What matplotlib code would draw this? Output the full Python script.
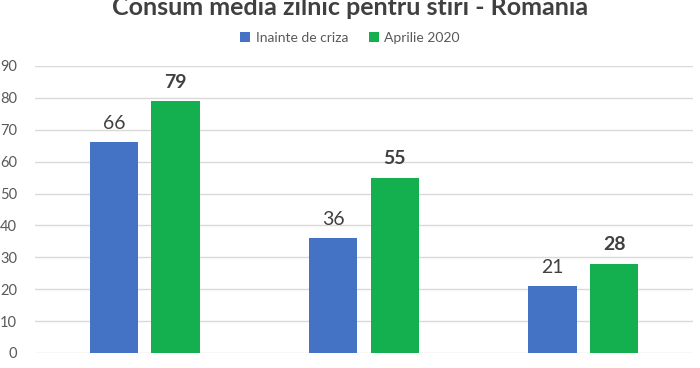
import matplotlib.pyplot as plt
import numpy as np

plt.rcParams['font.family'] = ['Lato', 'DejaVu Sans']

categories = ['Televiziune', 'Online (site-uri si retele sociale)', 'Radio']
inainte = [66, 36, 21]
aprilie = [79, 55, 28]
series_names = ['Inainte de criza', 'Aprilie 2020']
yticks = [0, 10, 20, 30, 40, 50, 60, 70, 80, 90]

blue = '#4472C4'
green = '#14B04F'
gray = '#595959'

fig = plt.figure(figsize=(7, 3.68), dpi=100)
ax = fig.add_axes([0.05, 0.0408, 0.94, 0.78])

x = np.arange(len(categories))
w = 0.22
off = 0.14
b1 = ax.bar(x - off, inainte, w, color=blue, label=series_names[0], zorder=3)
b2 = ax.bar(x + off, aprilie, w, color=green, label=series_names[1], zorder=3)

for r, v in zip(b1, inainte):
    ax.text(r.get_x() + r.get_width() / 2, v + 3.2, str(v), ha='center', va='bottom',
            fontsize=14, color='#404040')
for r, v in zip(b2, aprilie):
    ax.text(r.get_x() + r.get_width() / 2, v + 3.2, str(v), ha='center', va='bottom',
            fontsize=14, color='#404040', fontweight='bold')

ax.set_xlim(-0.5, 2.5)
ax.set_ylim(0, 90)
ax.set_yticks(yticks)
ax.yaxis.grid(True, color='#D9D9D9', linewidth=1, zorder=0)
ax.set_xticks(x)
ax.set_xticklabels(categories, fontsize=11, color=gray)
ax.tick_params(axis='y', length=0, labelsize=10.5, labelcolor=gray, pad=13)
ax.tick_params(axis='x', length=0, pad=11)
for s in ax.spines.values():
    s.set_visible(False)

fig.text(0.5, 1 - 15 / 368, 'Consum media zilnic pentru stiri - Romania', ha='center', va='baseline',
         fontsize=18, fontweight='bold', color='#404040')
fig.legend(loc='center', bbox_to_anchor=(0.5, 1 - 38 / 368), ncol=2, frameon=False,
           fontsize=10, labelcolor=gray, handlelength=0.7, handleheight=0.7,
           handletextpad=0.4, columnspacing=1.5)

fig.savefig('out.png', dpi=100)
